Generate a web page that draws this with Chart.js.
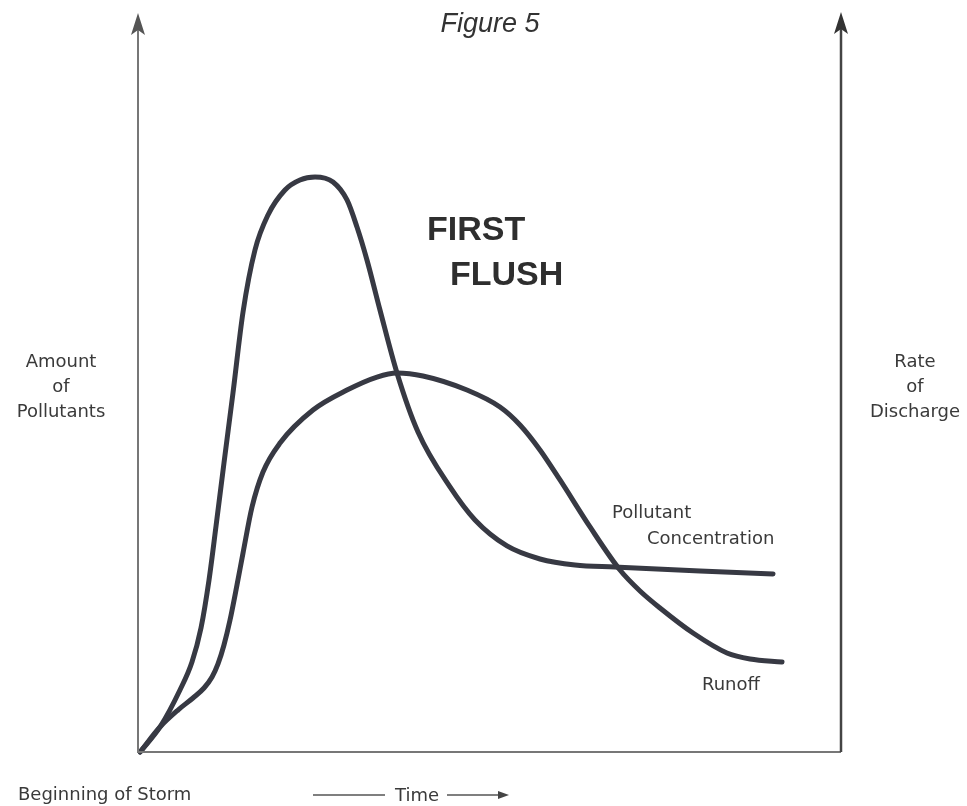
<!DOCTYPE html>
<html>
<head>
<meta charset="utf-8">
<script src="https://cdn.jsdelivr.net/npm/chart.js@4.4.1/dist/chart.umd.min.js"></script>
<style>
html,body{margin:0;padding:0;background:#fff;}
canvas{display:block;}
</style>
</head>
<body>
<canvas id="c" width="967" height="806"></canvas>
<script>
// Time (0..100, arbitrary units along the x axis); values 0..100 arbitrary units
const pollutantX = [0.3, 3.13, 5.97, 7.68, 8.96, 10.10, 11.10, 12.23, 13.51, 14.94, 16.64, 18.49, 20.91, 23.04, 25.18, 27.74, 29.73, 31.15, 32.57, 34.42, 36.84, 39.83, 44.38, 47.94, 52.49, 57.18, 62.16, 67.85, 79.94, 90.33];
const pollutantY = [0, 3.38, 8.39, 12.18, 16.78, 23.27, 30.58, 39.11, 48.58, 59.54, 67.93, 72.67, 76.05, 77.40, 77.81, 77.13, 74.70, 71.04, 66.58, 59.81, 51.29, 43.30, 35.86, 31.39, 27.88, 26.12, 25.30, 25.03, 24.49, 24.09];
const runoffX = [0.3, 3.13, 5.69, 7.82, 9.39, 10.53, 11.38, 12.23, 13.09, 14.08, 14.94, 16.22, 17.78, 20.20, 24.89, 29.73, 34.00, 36.84, 40.54, 46.80, 51.49, 54.34, 57.18, 60.03, 64.30, 68.56, 71.41, 74.25, 78.95, 83.78, 87.06, 91.61];
const runoffY = [0, 3.38, 5.68, 7.31, 8.66, 10.15, 11.91, 14.48, 17.86, 22.60, 26.93, 33.15, 37.89, 41.81, 46.28, 48.98, 50.74, 51.29, 50.88, 48.98, 46.68, 44.25, 40.87, 36.81, 30.45, 24.63, 21.79, 19.49, 16.10, 13.40, 12.58, 12.18];

const seriesNames = ['Pollutant Concentration', 'Runoff'];
const titleText = 'Figure 5';
const leftAxisLabel = ['Amount', 'of', 'Pollutants'];
const rightAxisLabel = ['Rate', 'of', 'Discharge'];

const toPts = (xs, ys) => xs.map((x, i) => ({x: x, y: ys[i]}));

const lineColor = '#373943';
const textColor = '#3a3a3a';

const decor = {
  id: 'decor',
  afterDraw(chart) {
    const ctx = chart.ctx;
    const a = chart.chartArea;
    ctx.save();
    ctx.lineCap = 'butt';
    ctx.strokeStyle = '#777';
    ctx.lineWidth = 2;
    ctx.beginPath();
    ctx.moveTo(a.left, a.top + 8); ctx.lineTo(a.left, a.bottom);
    ctx.lineTo(a.right, a.bottom);
    ctx.stroke();
    ctx.strokeStyle = '#444';
    ctx.lineWidth = 2.5;
    ctx.beginPath();
    ctx.moveTo(a.right, a.top + 8); ctx.lineTo(a.right, a.bottom);
    ctx.stroke();
    function arrowUp(x, y, col) {
      ctx.fillStyle = col;
      ctx.beginPath();
      ctx.moveTo(x, y);
      ctx.lineTo(x + 7, y + 22);
      ctx.lineTo(x, y + 17);
      ctx.lineTo(x - 7, y + 22);
      ctx.closePath();
      ctx.fill();
    }
    arrowUp(a.left, a.top, '#555');
    arrowUp(a.right, a.top - 1, '#333');

    ctx.fillStyle = '#333';
    ctx.textBaseline = 'alphabetic';
    ctx.textAlign = 'center';
    ctx.font = 'italic 27px "Liberation Sans", Arial, sans-serif';
    ctx.fillText(titleText, 490, 32);

    ctx.textAlign = 'left';
    ctx.fillStyle = '#2e2e2e';
    ctx.font = 'bold 34px "Liberation Sans", Arial, sans-serif';
    ctx.fillText('FIRST', 427, 240);
    ctx.fillText('FLUSH', 450, 285);

    ctx.fillStyle = textColor;
    ctx.font = '18px "DejaVu Sans", sans-serif';
    ctx.textAlign = 'center';
    const lb = [367, 392, 417];
    leftAxisLabel.forEach((t, i) => ctx.fillText(t, 61, lb[i]));
    rightAxisLabel.forEach((t, i) => ctx.fillText(t, 915, lb[i]));

    ctx.textAlign = 'left';
    ctx.fillText('Pollutant', 612, 518);
    ctx.fillText('Concentration', 647, 544);
    ctx.fillText(seriesNames[1], 702, 690);
    ctx.fillText('Beginning of Storm', 18, 800);
    ctx.fillText('Time', 395, 801);

    ctx.strokeStyle = '#555';
    ctx.lineWidth = 1.5;
    ctx.beginPath();
    ctx.moveTo(313, 795); ctx.lineTo(385, 795);
    ctx.moveTo(447, 795); ctx.lineTo(500, 795);
    ctx.stroke();
    ctx.fillStyle = '#444';
    ctx.beginPath();
    ctx.moveTo(509, 795);
    ctx.lineTo(498, 791);
    ctx.lineTo(498, 799);
    ctx.closePath();
    ctx.fill();
    ctx.restore();
  }
};

const lineStyle = {
  showLine: true,
  borderColor: lineColor,
  backgroundColor: lineColor,
  borderWidth: 5,
  pointRadius: 0,
  cubicInterpolationMode: 'monotone',
  borderCapStyle: 'round',
  borderJoinStyle: 'round',
  clip: false
};

new Chart(document.getElementById('c'), {
  type: 'scatter',
  data: {
    datasets: [
      Object.assign({ label: seriesNames[0], data: toPts(pollutantX, pollutantY) }, lineStyle),
      Object.assign({ label: seriesNames[1], data: toPts(runoffX, runoffY) }, lineStyle)
    ]
  },
  options: {
    responsive: false,
    animation: false,
    devicePixelRatio: 1,
    layout: { padding: { left: 138, right: 126, top: 13, bottom: 54 } },
    plugins: { legend: { display: false }, tooltip: { enabled: false }, title: { display: false } },
    scales: {
      x: { type: 'linear', min: 0, max: 100, display: false },
      y: { type: 'linear', min: 0, max: 100, display: false }
    }
  },
  plugins: [decor]
});
</script>
</body>
</html>
